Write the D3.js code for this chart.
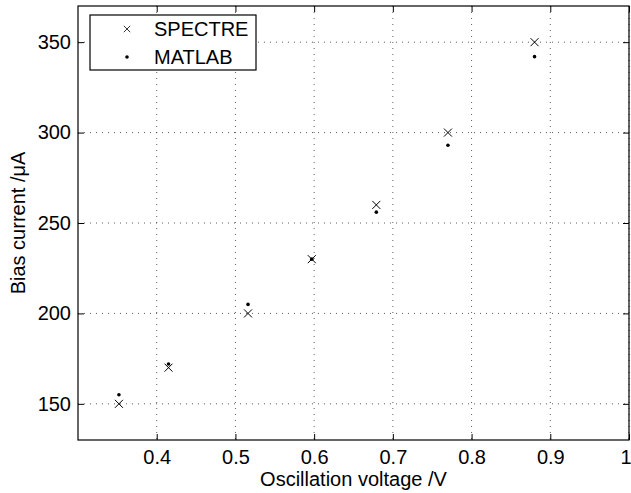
<!DOCTYPE html>
<html>
<head>
<meta charset="utf-8">
<script src="https://cdn.jsdelivr.net/npm/d3@7"></script>
<style>
  body { margin: 0; background: #fff; }
  svg text { font-family: "Liberation Sans", Arial, Helvetica, sans-serif; }
</style>
</head>
<body>
<svg id="chart"></svg>
<script>
// ---- data ----
const voltage = [0.352, 0.415, 0.516, 0.597, 0.679, 0.770, 0.880];
const spectre = [150, 170, 200, 230, 260, 300, 350];
const matlab  = [155, 172, 205, 230, 256, 293, 342];

const xTicks = [0.4, 0.5, 0.6, 0.7, 0.8, 0.9, 1.0];
const xTickLabels = ["0.4", "0.5", "0.6", "0.7", "0.8", "0.9", "1"];
const yTicks = [150, 200, 250, 300, 350];
const seriesNames = ["SPECTRE", "MATLAB"];

// ---- layout ----
const width = 631, height = 493;
const margin = { top: 6, right: 2, bottom: 53, left: 78 };
const innerW = width - margin.left - margin.right;
const innerH = height - margin.top - margin.bottom;
const fontSize = "20px";

const svg = d3.select("#chart").attr("width", width).attr("height", height);
const g = svg.append("g").attr("transform", `translate(${margin.left},${margin.top})`);

const x = d3.scaleLinear().domain([0.3, 1.0]).range([0, innerW]);
const y = d3.scaleLinear().domain([130, 370]).range([innerH, 0]);

// grid (dotted)
const grid = g.append("g").attr("class", "grid");
grid.selectAll("line.gx")
  .data(xTicks)
  .join("line")
  .attr("class", "gx")
  .attr("x1", d => x(d)).attr("x2", d => x(d))
  .attr("y1", 0).attr("y2", innerH);
grid.selectAll("line.gy")
  .data(yTicks)
  .join("line")
  .attr("class", "gy")
  .attr("x1", 0).attr("x2", innerW)
  .attr("y1", d => y(d)).attr("y2", d => y(d));
grid.selectAll("line")
  .attr("stroke", "#333")
  .attr("stroke-width", 0.8)
  .attr("stroke-dasharray", "1,5");

// axes with inward ticks
const xAxis = g.append("g")
  .attr("transform", `translate(0,${innerH})`)
  .call(d3.axisBottom(x).tickValues(xTicks).tickFormat((d, i) => xTickLabels[i])
    .tickSizeInner(-6).tickSizeOuter(0).tickPadding(10));
const yAxis = g.append("g")
  .call(d3.axisLeft(y).tickValues(yTicks).tickFormat(d3.format("d"))
    .tickSizeInner(-6).tickSizeOuter(0).tickPadding(7));
const xTop = g.append("g")
  .call(d3.axisTop(x).tickValues(xTicks).tickFormat("")
    .tickSizeInner(-6).tickSizeOuter(0));
const yRight = g.append("g")
  .attr("transform", `translate(${innerW},0)`)
  .call(d3.axisRight(y).tickValues(yTicks).tickFormat("")
    .tickSizeInner(-6).tickSizeOuter(0));

[xAxis, yAxis, xTop, yRight].forEach(a => {
  a.select(".domain").remove();
  a.selectAll("line").attr("stroke", "#000").attr("stroke-width", 1);
  a.selectAll("text").attr("font-size", fontSize).attr("fill", "#000");
});

// last x label sits at the window edge: keep it inside
xAxis.selectAll(".tick text")
  .filter((d, i) => i === xTicks.length - 1)
  .attr("text-anchor", "end")
  .attr("x", 2);

// box
g.append("rect")
  .attr("x", 0).attr("y", 0)
  .attr("width", innerW).attr("height", innerH)
  .attr("fill", "none")
  .attr("stroke", "#000")
  .attr("stroke-width", 1.2);

// SPECTRE: x markers
const cross = "M-4,-4L4,4M-4,4L4,-4";
g.selectAll("path.spectre")
  .data(voltage.map((v, i) => [v, spectre[i]]))
  .join("path")
  .attr("class", "spectre")
  .attr("transform", d => `translate(${x(d[0])},${y(d[1])})`)
  .attr("d", cross)
  .attr("stroke", "#000")
  .attr("stroke-width", 1)
  .attr("fill", "none");

// MATLAB: dots
g.selectAll("circle.matlab")
  .data(voltage.map((v, i) => [v, matlab[i]]))
  .join("circle")
  .attr("class", "matlab")
  .attr("cx", d => x(d[0]))
  .attr("cy", d => y(d[1]))
  .attr("r", 1.8)
  .attr("fill", "#000");

// axis labels
svg.append("text")
  .attr("x", margin.left + innerW / 2)
  .attr("y", 486)
  .attr("text-anchor", "middle")
  .attr("font-size", fontSize)
  .text("Oscillation voltage /V");

svg.append("text")
  .attr("transform", `translate(25,${margin.top + innerH / 2}) rotate(-90)`)
  .attr("text-anchor", "middle")
  .attr("font-size", fontSize)
  .text("Bias current /\u03BCA");

// legend
const legend = svg.append("g").attr("transform", "translate(90,15)");
legend.append("rect")
  .attr("width", 166).attr("height", 55)
  .attr("fill", "#fff")
  .attr("stroke", "#000")
  .attr("stroke-width", 1.2);

const items = legend.selectAll("g.item")
  .data(seriesNames)
  .join("g")
  .attr("class", "item")
  .attr("transform", (d, i) => `translate(0,${14 + i * 28})`);

items.filter((d, i) => i === 0).append("path")
  .attr("transform", "translate(37,0) scale(0.8)")
  .attr("d", cross)
  .attr("stroke", "#000")
  .attr("fill", "none");
items.filter((d, i) => i === 1).append("circle")
  .attr("cx", 37).attr("cy", 0).attr("r", 1.8)
  .attr("fill", "#000");

items.append("text")
  .attr("x", 64)
  .attr("y", 7)
  .attr("font-size", fontSize)
  .text(d => d);
</script>
</body>
</html>
